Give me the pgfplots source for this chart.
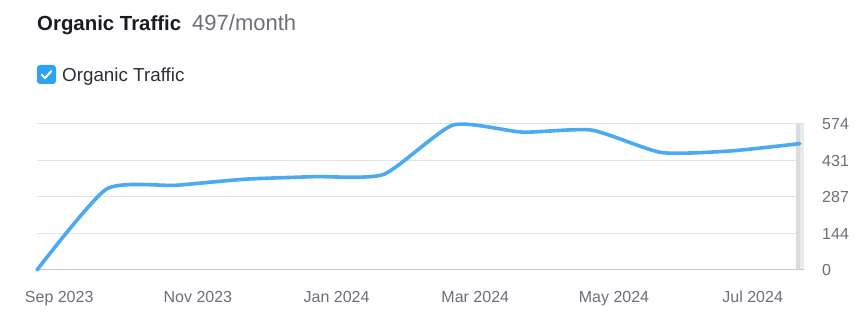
\documentclass[border=0pt]{standalone}
\usepackage{fontspec}
\setmainfont{Liberation Sans}
\usepackage{pgfplots}
\pgfplotsset{compat=1.18}
\definecolor{linec}{RGB}{74,170,244}
\definecolor{titlec}{RGB}{25,27,35}
\definecolor{subc}{RGB}{108,110,121}
\definecolor{legc}{RGB}{45,47,55}
\definecolor{checkc}{RGB}{47,163,243}
\definecolor{tickc}{RGB}{108,110,121}
\definecolor{gridc}{RGB}{226,227,234}
\definecolor{axisc}{RGB}{200,201,210}
\definecolor{banda}{RGB}{218,221,222}
\definecolor{bandb}{RGB}{232,234,235}
\begin{document}
\begin{tikzpicture}[x=1pt,y=1pt]
\useasboundingbox (0,0) rectangle (867,318);
\node[anchor=base west, inner sep=0, text=titlec, font=\fontsize{20.4}{24}\selectfont\bfseries] at (37,287) {Organic Traffic};
\node[anchor=base west, inner sep=0, text=subc, font=\fontsize{22}{24}\selectfont] at (192,287) {497/month};
\fill[checkc, rounded corners=3] (37,234) rectangle (56,253);
\draw[white, line width=2, line cap=round, line join=round] (41.5,243.5) -- (45,240) -- (51.5,247);
\node[anchor=base west, inner sep=0, text=legc, font=\fontsize{18.8}{22}\selectfont] at (62,236) {Organic Traffic};
\begin{axis}[
  at={(37pt,48pt)}, anchor=south west,
  scale only axis, width=767pt, height=146pt,
  xmin=0, xmax=11.06, ymin=0, ymax=574,
  axis line style={draw=none},
  major tick length=0pt,
  ymajorgrids, grid style={gridc, line width=1pt},
  ytick={0,143.5,287,430.5,574},
  yticklabels={0,144,287,431,574},
  yticklabel pos=right,
  yticklabel style={anchor=west, inner sep=0pt, xshift=18pt, text=tickc, font=\fontsize{16}{18}\selectfont},
  xtick={0.32,2.32,4.32,6.32,8.32,10.32},
  xticklabels={Sep 2023,Nov 2023,Jan 2024,Mar 2024,May 2024,Jul 2024},
  xticklabel style={anchor=base, inner sep=0pt, yshift=-33pt, text=tickc, font=\fontsize{16}{18}\selectfont},
  clip=false,
]
\fill[banda] (axis cs:10.94,0) rectangle (axis cs:11.0,574);
\fill[bandb] (axis cs:11.0,0) rectangle (axis cs:11.06,574);
\draw[axisc, line width=1pt] (axis cs:0,0) -- (axis cs:11.06,0);
\addplot[linec, line width=3.6pt, smooth, tension=0.35, line cap=round] coordinates {
(0,0) (1,318) (2,333) (3,357) (4,367) (5,376) (6,570) (7,542) (8,550) (9,462) (10,468) (11,497)
};
\end{axis}
\end{tikzpicture}
\end{document}
